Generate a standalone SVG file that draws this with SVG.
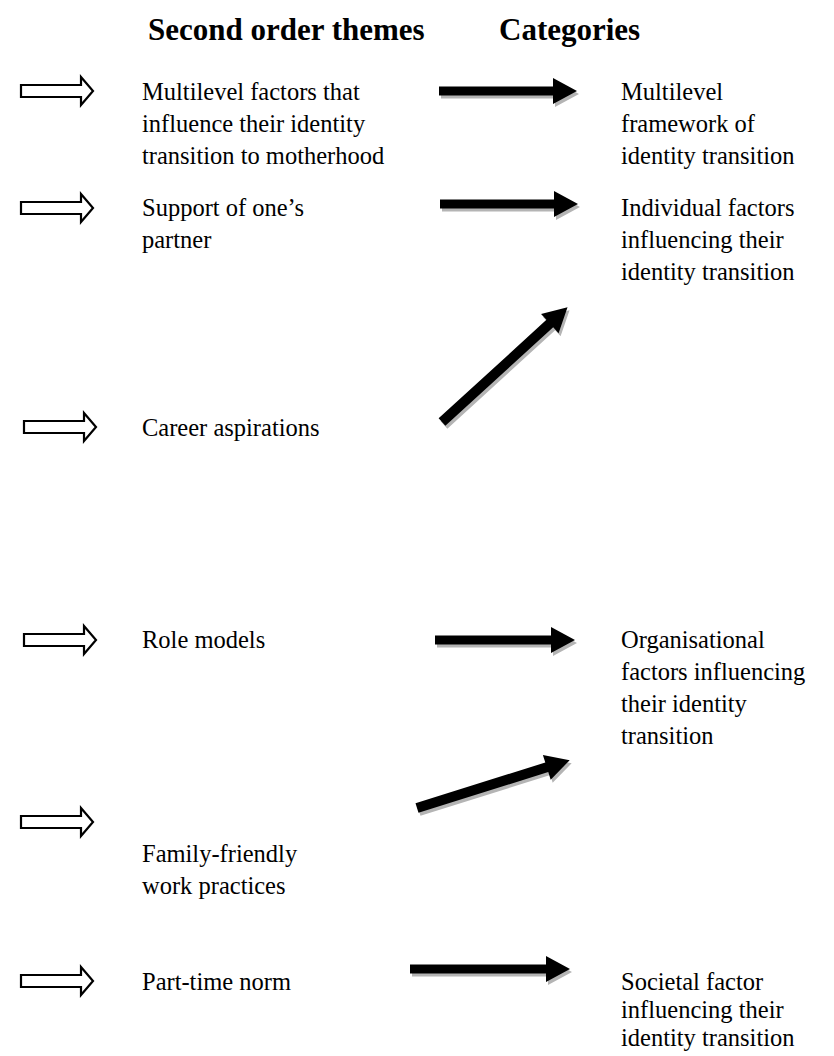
<svg xmlns="http://www.w3.org/2000/svg" width="834" height="1056" viewBox="0 0 834 1056">
<style>
.h{font-family:"Liberation Serif","Times New Roman",serif;font-weight:bold;font-size:31px;fill:#000}
.t{font-family:"Liberation Serif","Times New Roman",serif;font-size:24.5px;fill:#000}
.ho{fill:#fff;stroke:#000;stroke-width:2.2}
.sh{fill:#b4b4b4}
.bk{fill:#000}
</style>
<defs>
<polygon id="hollow" points="0,-6 60,-6 60,-14 72,0 60,14 60,6 0,6"/>
</defs>
<rect width="834" height="1056" fill="#fff"/>
<g id="headers">
<text class="h" x="148" y="40">Second order themes</text>
<text class="h" x="499" y="40">Categories</text>
</g>
<g id="themes">
<g id="t1"><use href="#hollow" class="ho" x="21" y="91"/>
<text class="t" x="142" y="100">Multilevel factors that</text>
<text class="t" x="142" y="132">influence their identity</text>
<text class="t" x="142" y="164">transition to motherhood</text></g>
<g id="t2"><use href="#hollow" class="ho" x="21" y="208"/>
<text class="t" x="142" y="216">Support of one’s</text>
<text class="t" x="142" y="248">partner</text></g>
<g id="t3"><use href="#hollow" class="ho" x="24" y="427"/>
<text class="t" x="142" y="436">Career aspirations</text></g>
<g id="t4"><use href="#hollow" class="ho" x="24" y="640"/>
<text class="t" x="142" y="648">Role models</text></g>
<g id="t5"><use href="#hollow" class="ho" x="21" y="822"/>
<text class="t" x="142" y="862">Family-friendly</text>
<text class="t" x="142" y="894">work practices</text></g>
<g id="t6"><use href="#hollow" class="ho" x="21" y="981"/>
<text class="t" x="142" y="990">Part-time norm</text></g>
</g>
<g id="categories">
<g id="c1"><text class="t" x="621" y="100">Multilevel</text>
<text class="t" x="621" y="132">framework of</text>
<text class="t" x="621" y="164">identity transition</text></g>
<g id="c2"><text class="t" x="621" y="216">Individual factors</text>
<text class="t" x="621" y="248">influencing their</text>
<text class="t" x="621" y="280">identity transition</text></g>
<g id="c3"><text class="t" x="621" y="648">Organisational</text>
<text class="t" x="621" y="680">factors influencing</text>
<text class="t" x="621" y="712">their identity</text>
<text class="t" x="621" y="744">transition</text></g>
<g id="c4"><text class="t" x="621" y="990">Societal factor</text>
<text class="t" x="621" y="1018">influencing their</text>
<text class="t" x="621" y="1046">identity transition</text></g>
</g>
<g id="connectors">
<g transform="translate(439,91)"><polygon class="sh" transform="translate(2,3)" points="0,-4.5 114,-4.5 114,-13 138,0 114,13 114,4.5 0,4.5"/><polygon class="bk" points="0,-4.5 114,-4.5 114,-13 138,0 114,13 114,4.5 0,4.5"/></g>
<g transform="translate(440,204)"><polygon class="sh" transform="translate(2,3)" points="0,-4.5 114,-4.5 114,-13 138,0 114,13 114,4.5 0,4.5"/><polygon class="bk" points="0,-4.5 114,-4.5 114,-13 138,0 114,13 114,4.5 0,4.5"/></g>
<g transform="translate(442,422) rotate(-42.4)"><polygon class="sh" transform="rotate(42.4) translate(2,3) rotate(-42.4)" points="0,-5 146,-5 146,-13 170,0 146,13 146,5 0,5"/><polygon class="bk" points="0,-5 146,-5 146,-13 170,0 146,13 146,5 0,5"/></g>
<g transform="translate(435,640)"><polygon class="sh" transform="translate(2,3)" points="0,-4.5 116,-4.5 116,-13 140,0 116,13 116,4.5 0,4.5"/><polygon class="bk" points="0,-4.5 116,-4.5 116,-13 140,0 116,13 116,4.5 0,4.5"/></g>
<g transform="translate(417,808) rotate(-17.4)"><polygon class="sh" transform="rotate(17.4) translate(2,3) rotate(-17.4)" points="0,-5 136,-5 136,-13 160,0 136,13 136,5 0,5"/><polygon class="bk" points="0,-5 136,-5 136,-13 160,0 136,13 136,5 0,5"/></g>
<g transform="translate(410,969)"><polygon class="sh" transform="translate(2,3)" points="0,-4.5 136,-4.5 136,-13 160,0 136,13 136,4.5 0,4.5"/><polygon class="bk" points="0,-4.5 136,-4.5 136,-13 160,0 136,13 136,4.5 0,4.5"/></g>
</g>
</svg>
